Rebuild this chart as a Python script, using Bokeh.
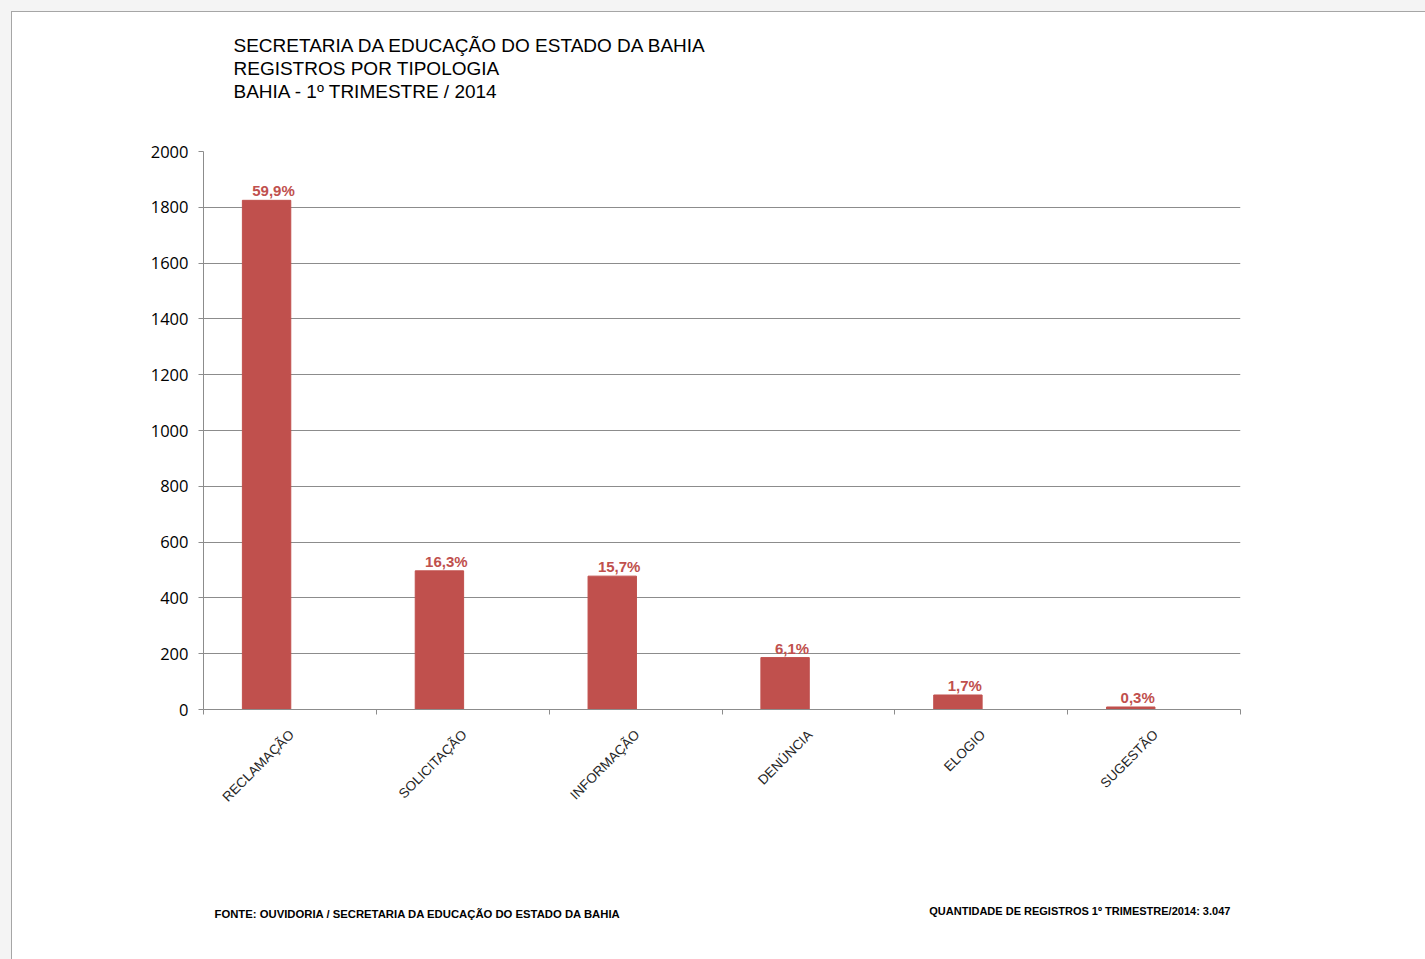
from bokeh.plotting import figure
from bokeh.layouts import column
from bokeh.models import Range1d, FixedTicker, Label
from bokeh.core.properties import value
from bokeh.embed import file_html
from bokeh.resources import INLINE

# ---- data ----
categories = ["RECLAMAÇÃO", "SOLICITAÇÃO", "INFORMAÇÃO", "DENÚNCIA", "ELOGIO", "SUGESTÃO"]
registros = [1825, 497, 478, 186, 52, 9]
percent_labels = ["59,9%", "16,3%", "15,7%", "6,1%", "1,7%", "0,3%"]
y_ticks = [0, 200, 400, 600, 800, 1000, 1200, 1400, 1600, 1800, 2000]
title_lines = [
    "SECRETARIA  DA EDUCAÇÃO DO ESTADO DA BAHIA",
    "REGISTROS  POR TIPOLOGIA",
    "BAHIA - 1º TRIMESTRE   / 2014",
]
fonte_text = "FONTE: OUVIDORIA / SECRETARIA DA EDUCAÇÃO DO ESTADO DA BAHIA"
total_text = "QUANTIDADE DE REGISTROS 1º TRIMESTRE/2014:   3.047"

BAR = "#C0504D"
GRID = "#8c8c8c"
SANS = "'Liberation Sans', Arial, sans-serif"
W = 1425
FRAME_LEFT = 203   # frames of the stacked figures are aligned with the chart frame


def text_strip(height):
    f = figure(width=W, height=height, output_backend="svg", toolbar_location=None,
               x_range=Range1d(0, 1), y_range=Range1d(0, 1),
               x_axis_location=None, y_axis_location=None,
               min_border=0)
    f.outline_line_color = None
    f.border_fill_color = None
    f.background_fill_color = None
    f.xgrid.grid_line_color = None
    f.ygrid.grid_line_color = None
    return f


# ---- header with title lines ----
HEAD_H = 120
head = text_strip(HEAD_H)
for k, line in enumerate(title_lines):
    head.add_layout(Label(x=233 - FRAME_LEFT, y=HEAD_H - 45 - 23 * k,
                          x_units="screen", y_units="screen",
                          text=line, text_font=SANS, text_font_size="19px",
                          text_color="#000000", text_baseline="middle", text_align="left"))

# ---- main chart ----
n = len(categories)
bar_x = [i + 0.365 for i in range(n)]
lab_x = [i + 0.405 for i in range(n)]

MAIN_H = 31 + 558 + 140
p = figure(width=W, height=MAIN_H, output_backend="svg", toolbar_location=None,
           x_range=Range1d(0, n), y_range=Range1d(0, 2000),
           min_border_left=FRAME_LEFT, min_border_right=185,
           min_border_top=31, min_border_bottom=140)
p.border_fill_color = None
p.background_fill_color = "white"
p.outline_line_color = None

p.vbar(x=bar_x, top=registros, width=0.28, color=BAR, line_color=BAR)
p.text(x=lab_x, y=registros, text=percent_labels, y_offset=-1,
       text_align="center", text_baseline="bottom",
       text_font=value(SANS), text_font_style="bold",
       text_font_size="15px", text_color=BAR)

p.xaxis.ticker = FixedTicker(ticks=[i + 0.51 for i in range(n)],
                             minor_ticks=list(range(n + 1)))
p.xaxis.major_label_overrides = {i + 0.51: c for i, c in enumerate(categories)}
p.xaxis.major_label_orientation = 0.785398
p.xaxis.major_tick_line_color = None
p.xaxis.major_tick_out = 0
p.xaxis.major_tick_in = 0
p.xaxis.minor_tick_out = 5
p.xaxis.minor_tick_in = 0
p.xaxis.minor_tick_line_color = GRID
p.xaxis.axis_line_color = GRID
p.xaxis.major_label_standoff = 18
p.xaxis.major_label_text_font = SANS
p.xaxis.major_label_text_font_size = "13.5px"
p.xaxis.major_label_text_color = "#262626"

p.yaxis.ticker = FixedTicker(ticks=y_ticks)
p.yaxis.axis_line_color = GRID
p.yaxis.major_tick_line_color = GRID
p.yaxis.major_tick_out = 5
p.yaxis.major_tick_in = 0
p.yaxis.minor_tick_line_color = None
p.yaxis.major_label_standoff = 10
p.yaxis.major_label_text_font = "Open Sans"
p.yaxis.major_label_text_font_size = "16.5px"
p.yaxis.major_label_text_color = "#000000"

p.xgrid.grid_line_color = None
p.ygrid.grid_line_color = GRID

# ---- footer ----
FOOT_H = 959 - HEAD_H - MAIN_H
foot = text_strip(FOOT_H)
foot_top = HEAD_H + MAIN_H
foot.add_layout(Label(x=214 - FRAME_LEFT, y=foot_top + FOOT_H - 913,
                      x_units="screen", y_units="screen",
                      text=fonte_text, text_font=SANS, text_font_style="bold",
                      text_font_size="11.3px", text_color="#000000",
                      text_baseline="middle", text_align="left"))
foot.add_layout(Label(x=1236 - FRAME_LEFT, y=foot_top + FOOT_H - 910,
                      x_units="screen", y_units="screen",
                      text=total_text, text_font=SANS, text_font_style="bold",
                      text_font_size="11px", text_color="#000000",
                      text_baseline="middle", text_align="right"))

layout = column(head, p, foot, spacing=0)
layout.styles = {"box-shadow": "inset 11px 11px 0 0 #f4f4f4, inset 12px 12px 0 0 #a6a6a6"}

open("out.html", "w").write(file_html(layout, INLINE))
